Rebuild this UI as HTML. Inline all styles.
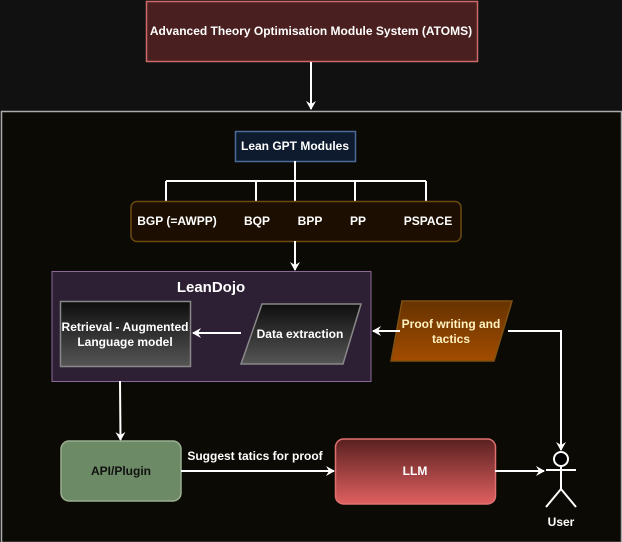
<!DOCTYPE html>
<html><head><meta charset="utf-8"><style>
html,body{margin:0;padding:0;background:#111112;}
svg{display:block;}
text{font-family:"Liberation Sans",sans-serif;font-weight:bold;font-size:12px;fill:#fff;text-anchor:middle;}
</style></head><body>
<svg width="622" height="542" viewBox="0 0 622 542" xmlns="http://www.w3.org/2000/svg">
<defs>
<marker id="a" markerWidth="10" markerHeight="10" refX="8" refY="5" orient="auto" markerUnits="userSpaceOnUse">
<path d="M0,0 L9,5 L0,10 L3,5 Z" fill="#fff"/></marker>
<linearGradient id="gd" x1="0" y1="0" x2="0" y2="1"><stop offset="0" stop-color="#0e0e0e"/><stop offset="1" stop-color="#555"/></linearGradient>
<linearGradient id="go" x1="0" y1="0" x2="0" y2="1"><stop offset="0" stop-color="#663300"/><stop offset="1" stop-color="#a34c00"/></linearGradient>
<linearGradient id="gl" x1="0" y1="0" x2="0" y2="1"><stop offset="0" stop-color="#5a2020"/><stop offset="1" stop-color="#e06060"/></linearGradient>
</defs>
<rect width="622" height="542" fill="#111112"/>
<rect x="146.5" y="1.5" width="331" height="60" fill="#4a1f1f" stroke="#d06a6a" stroke-width="1.5"/>
<text x="311" y="35">Advanced Theory Optimisation Module System (ATOMS)</text>
<line x1="311" y1="62" x2="311" y2="109" stroke="#fff" stroke-width="2" marker-end="url(#a)"/>
<rect x="1.5" y="111.5" width="620" height="431" fill="#0c0a04" stroke="#aaa" stroke-width="1.5"/>
<rect x="235.5" y="131.5" width="120" height="30" fill="#0e1a2e" stroke="#4a6a9a" stroke-width="1.5"/>
<text x="295" y="150">Lean GPT Modules</text>
<g stroke="#fff" stroke-width="2" fill="none">
<line x1="295" y1="161" x2="295" y2="201"/>
<line x1="166" y1="181" x2="426" y2="181"/>
<line x1="166" y1="181" x2="166" y2="201"/>
<line x1="256" y1="181" x2="256" y2="201"/>
<line x1="355" y1="181" x2="355" y2="201"/>
<line x1="426" y1="181" x2="426" y2="201"/>
</g>
<rect x="131" y="201.5" width="330" height="40" rx="6" fill="#1c0f02" stroke="#6b4a10" stroke-width="1.5"/>
<text x="177" y="225">BGP (=AWPP)</text>
<text x="257" y="225">BQP</text>
<text x="310" y="225">BPP</text>
<text x="358" y="225">PP</text>
<text x="428" y="225">PSPACE</text>
<line x1="295" y1="241" x2="295" y2="270" stroke="#fff" stroke-width="2" marker-end="url(#a)"/>
<rect x="52" y="271.5" width="319" height="110" fill="#2d2035" stroke="#8a6a9a" stroke-width="1"/>
<text x="211" y="292" style="font-size:15px">LeanDojo</text>
<rect x="60.5" y="301.5" width="130" height="65" fill="url(#gd)" stroke="#888" stroke-width="1.5"/>
<text x="125" y="331">Retrieval - Augmented</text>
<text x="125" y="346">Language model</text>
<polygon points="262,304 361,304 343,364 241,364" fill="url(#gd)" stroke="#888" stroke-width="1.5"/>
<text x="300" y="338">Data extraction</text>
<line x1="241" y1="333" x2="193" y2="333" stroke="#fff" stroke-width="2" marker-end="url(#a)"/>
<polygon points="402,301 512,301 494,361 391,361" fill="url(#go)" stroke="#805010" stroke-width="1.5"/>
<text x="451" y="328" style="fill:#fff2c0">Proof writing and</text>
<text x="451" y="343" style="fill:#fff2c0">tactics</text>
<line x1="400" y1="331" x2="373" y2="331" stroke="#fff" stroke-width="2" marker-end="url(#a)"/>
<polyline points="508,331 561,331 561,450" fill="none" stroke="#fff" stroke-width="2" marker-end="url(#a)"/>
<polyline points="120,381 120.5,440" fill="none" stroke="#fff" stroke-width="2" marker-end="url(#a)"/>
<rect x="61" y="441" width="120" height="60" rx="8" fill="#6d8a66" stroke="#9ab08f" stroke-width="1.5"/>
<text x="121" y="475" style="fill:#111">API/Plugin</text>
<line x1="181" y1="471" x2="334" y2="471" stroke="#fff" stroke-width="2" marker-end="url(#a)"/>
<text x="255" y="460">Suggest tatics for proof</text>
<rect x="335.5" y="439" width="160" height="65" rx="8" fill="url(#gl)" stroke="#e07070" stroke-width="1.5"/>
<text x="415" y="475">LLM</text>
<line x1="495" y1="471" x2="544" y2="471" stroke="#fff" stroke-width="2" marker-end="url(#a)"/>
<g stroke="#fff" stroke-width="2" fill="none">
<circle cx="561" cy="459" r="7" fill="#000"/>
<line x1="561" y1="466" x2="561" y2="489"/>
<line x1="546" y1="470" x2="576" y2="470"/>
<line x1="561" y1="489" x2="546" y2="507"/>
<line x1="561" y1="489" x2="576" y2="507"/>
</g>
<text x="561" y="526">User</text>
</svg>
</body></html>
